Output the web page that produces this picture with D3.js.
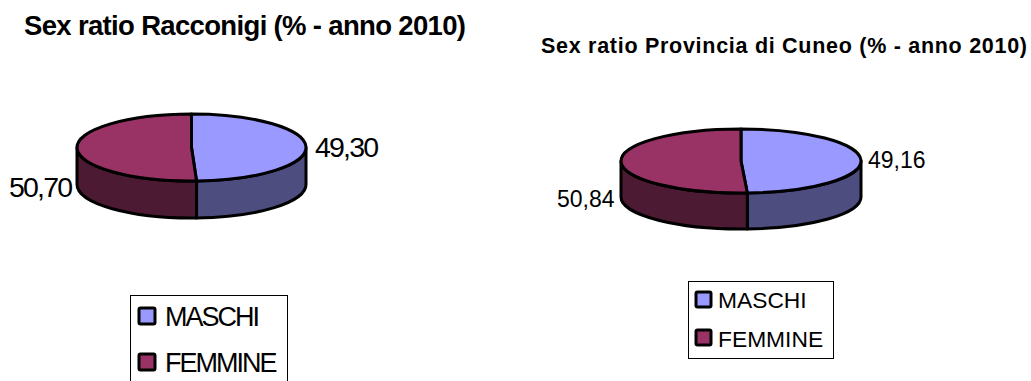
<!DOCTYPE html>
<html><head><meta charset="utf-8">
<script src="https://cdn.jsdelivr.net/npm/d3@7"></script>
<style>html,body{margin:0;padding:0;background:#fff}svg{display:block}text{font-family:"Liberation Sans",Arial,sans-serif;fill:#000}</style>
</head><body><svg id="c" width="1031" height="381"></svg>
<script>
const categories = ["MASCHI","FEMMINE"];
const racconigiValues = [49.30,50.70];
const cuneoValues = [49.16,50.84];
const topColors = ["#9999ff","#993366"];
const sideColors = ["#4d4d80","#4d1a33"];
const fmt = v => v.toFixed(2).replace(".",",");
const svg = d3.select("#c");

const charts = [
 {title:"Sex ratio Racconigi (% - anno 2010)", values:racconigiValues,
  tx:24,ty:35,tsize:27.5,tlen:442,
  cx:191.5,cy:147.5,rx:114.5,ry:33.5,depth:37,sw:3,
  lsize:28.5,lspace:-1.8,lab:[[315,157],[9,197]],
  box:[130,295,157,90],sx:139,ss:16,sy:[308,354],lx:165,ly:[326,372],ltsize:27,ltspace:-2},
 {title:"Sex ratio Provincia di Cuneo (% - anno 2010)", values:cuneoValues,
  tx:541,ty:53,tsize:21.5,tlen:486,
  cx:741,cy:161,rx:120,ry:32,depth:36,sw:3,
  lsize:23,lspace:0,lab:[[868,168],[557,207]],
  box:[688,281,145,77],sx:696,ss:15,sy:[292,330],lx:718,ly:[308,347],ltsize:22.8,ltspace:0}
];

charts.forEach(c=>{
  const arcs = d3.pie().sort(null)(c.values);
  const px = a => c.cx + c.rx*Math.sin(a);
  const py = (a,d=0) => c.cy - c.ry*Math.cos(a) + d;
  const A = `A${c.rx},${c.ry} 0`;
  const g = svg.append("g");
  g.append("text").attr("x",c.tx).attr("y",c.ty).attr("font-size",c.tsize).attr("font-weight","bold")
   .attr("textLength",c.tlen).attr("lengthAdjust","spacing").text(c.title);

  // side walls (front half of the ellipse only)
  arcs.forEach((d,i)=>{
    const a0=Math.max(d.startAngle,Math.PI/2), a1=Math.min(d.endAngle,3*Math.PI/2);
    g.append("path")
     .attr("d",`M${px(a0)},${py(a0)} ${A} 0 1 ${px(a1)},${py(a1)} L${px(a1)},${py(a1,c.depth)} ${A} 0 0 ${px(a0)},${py(a0,c.depth)} Z`)
     .attr("fill",sideColors[i]).attr("stroke","#000").attr("stroke-width",c.sw).attr("stroke-linejoin","round");
  });
  // top slices
  arcs.forEach((d,i)=>{
    const large=(d.endAngle-d.startAngle)>Math.PI?1:0;
    g.append("path")
     .attr("d",`M${c.cx},${c.cy} L${px(d.startAngle)},${py(d.startAngle)} ${A} ${large} 1 ${px(d.endAngle)},${py(d.endAngle)} Z`)
     .attr("fill",topColors[i]).attr("stroke","#000").attr("stroke-width",c.sw).attr("stroke-linejoin","round");
  });
  // value labels
  c.values.forEach((v,i)=>{
    g.append("text").attr("x",c.lab[i][0]).attr("y",c.lab[i][1]).attr("font-size",c.lsize)
     .attr("letter-spacing",c.lspace).text(fmt(v));
  });
  // legend
  g.append("rect").attr("x",c.box[0]+.5).attr("y",c.box[1]+.5).attr("width",c.box[2]).attr("height",c.box[3])
   .attr("fill","#fff").attr("stroke","#000").attr("stroke-width",1);
  categories.forEach((n,i)=>{
    g.append("rect").attr("x",c.sx).attr("y",c.sy[i]).attr("width",c.ss).attr("height",c.ss).attr("rx",1.5)
     .attr("fill",topColors[i]).attr("stroke","#000").attr("stroke-width",3);
    g.append("text").attr("x",c.lx).attr("y",c.ly[i]).attr("font-size",c.ltsize)
     .attr("letter-spacing",c.ltspace).text(n);
  });
});
</script></body></html>
